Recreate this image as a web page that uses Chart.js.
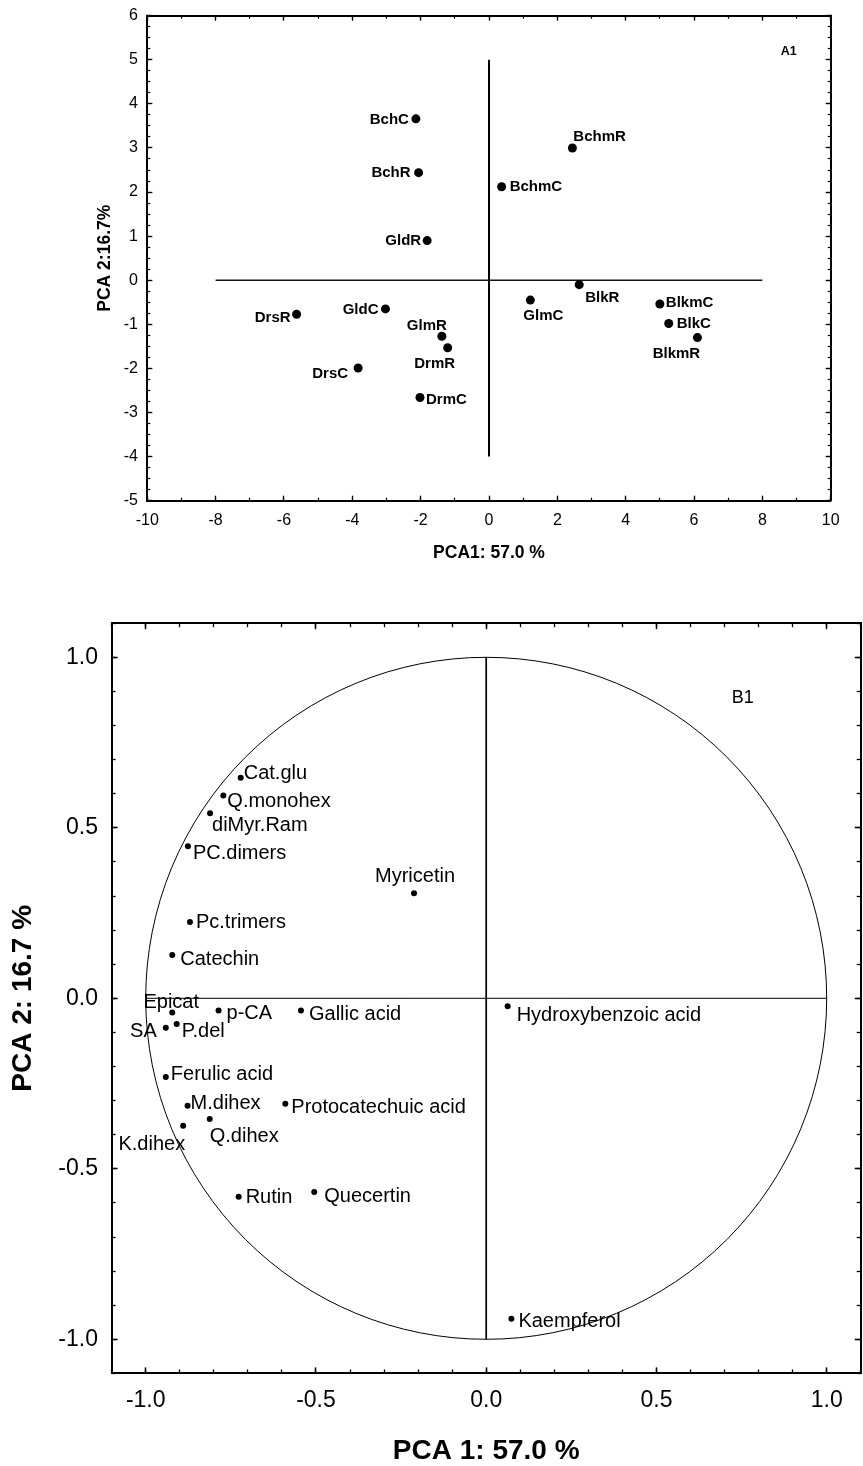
<!DOCTYPE html>
<html>
<head>
<meta charset="utf-8">
<script src="https://cdn.jsdelivr.net/npm/chart.js@4.4.1/dist/chart.umd.min.js"></script>
<style>
  html, body { margin: 0; padding: 0; background: #fff; }
  #wrap { position: relative; width: 863px; height: 1466px; }
  canvas { position: absolute; left: 0; }
</style>
</head>
<body>
<div id="wrap">
  <canvas id="scores" width="863" height="590" style="top:0"></canvas>
  <canvas id="loadings" width="863" height="876" style="top:590px"></canvas>
</div>
<script>
// ---- PCA scores of the samples (panel A1) ----
const sampleNames = ['BchC', 'BchR', 'GldR', 'BchmC', 'BchmR', 'DrsR', 'GldC', 'GlmR',
  'DrmR', 'DrsC', 'DrmC', 'GlmC', 'BlkR', 'BlkmC', 'BlkC', 'BlkmR'];
const scorePC1 = [-2.14, -2.06, -1.81, 0.37, 2.44, -5.63, -3.03, -1.38,
  -1.21, -3.83, -2.02, 1.21, 2.64, 5.00, 5.26, 6.10];
const scorePC2 = [3.66, 2.44, 0.90, 2.12, 3.00, -0.77, -0.65, -1.27,
  -1.53, -1.99, -2.66, -0.45, -0.10, -0.54, -0.98, -1.30];
const scoreTicksX = [-10, -8, -6, -4, -2, 0, 2, 4, 6, 8, 10];
const scoreTicksY = [-5, -4, -3, -2, -1, 0, 1, 2, 3, 4, 5, 6];
const scoreCrossX = [-8, 8];   // horizontal reference line extent
const scoreCrossY = [-4, 5];   // vertical reference line extent

// ---- PCA loadings of the phenolic compounds (panel B1) ----
const compoundNames = ['Cat.glu', 'Q.monohex', 'diMyr.Ram', 'PC.dimers', 'Myricetin', 'Pc.trimers',
  'Catechin', 'Epicat', 'p-CA', 'Gallic acid', 'SA', 'P.del', 'Ferulic acid', 'M.dihex',
  'Protocatechuic acid', 'Q.dihex', 'K.dihex', 'Hydroxybenzoic acid', 'Rutin', 'Quecertin', 'Kaempferol'];
const loadingPC1 = [-0.721, -0.772, -0.811, -0.876, -0.212, -0.870,
  -0.922, -0.922, -0.786, -0.544, -0.941, -0.909, -0.941, -0.877,
  -0.590, -0.812, -0.890, 0.063, -0.727, -0.505, 0.074];
const loadingPC2 = [0.647, 0.595, 0.543, 0.446, 0.308, 0.224,
  0.127, -0.042, -0.036, -0.036, -0.086, -0.075, -0.231, -0.315,
  -0.309, -0.354, -0.374, -0.023, -0.582, -0.568, -0.940];
const loadingTicks = [-1.0, -0.5, 0.0, 0.5, 1.0];
const loadingCross = [-1, 1];

// label anchor: [textAlign, dx, dy] relative to the marker
const scoreLabelSpots = {
  'BchC': ['right', -7, 1], 'BchR': ['right', -8, 0], 'GldR': ['right', -6, 0],
  'BchmC': ['left', 8, 0], 'BchmR': ['left', 1, -11], 'DrsR': ['right', -6, 4],
  'GldC': ['right', -7, 1], 'GlmR': ['center', -15, -10], 'DrmR': ['center', -13, 16],
  'DrsC': ['right', -10, 6], 'DrmC': ['left', 6, 2], 'GlmC': ['center', 13, 16],
  'BlkR': ['left', 6, 13], 'BlkmC': ['left', 6, -1], 'BlkC': ['left', 8, 0],
  'BlkmR': ['center', -21, 16]
};
const loadingLabelSpots = {
  'Cat.glu': ['left', 3, -4], 'Q.monohex': ['left', 4, 6], 'diMyr.Ram': ['left', 2, 12],
  'PC.dimers': ['left', 5, 7], 'Myricetin': ['center', 1, -17], 'Pc.trimers': ['left', 6, 1],
  'Catechin': ['left', 8, 4], 'Epicat': ['center', -1, -10], 'p-CA': ['left', 8, 3],
  'Gallic acid': ['left', 8, 4], 'SA': ['right', -9, 4], 'P.del': ['left', 5, 8],
  'Ferulic acid': ['left', 5, -3], 'M.dihex': ['left', 3, -2], 'Protocatechuic acid': ['left', 6, 4],
  'Q.dihex': ['left', 0, 17], 'K.dihex': ['right', 2, 19], 'Hydroxybenzoic acid': ['left', 9, 9],
  'Rutin': ['left', 7, 1], 'Quecertin': ['left', 10, 4], 'Kaempferol': ['left', 7, 3]
};

const FONT = '"Liberation Sans", Arial, Helvetica, sans-serif';
Chart.defaults.font.family = FONT;
Chart.defaults.color = '#000';

// fixed axis box thickness (0 for the unlabeled frame sides)
function fixSize(size) {
  return scale => {
    if (scale.isHorizontal()) scale.height = size; else scale.width = size;
    scale.paddingLeft = 0; scale.paddingRight = 0; scale.paddingTop = 0; scale.paddingBottom = 0;
  };
}

// one side of the frame: inward tick marks, optional labels and border line
function frameAxis(o) {
  const cfg = {
    type: 'linear', axis: o.axis, position: o.position, min: o.min, max: o.max,
    weight: o.labels ? 1 : 0,
    afterFit: fixSize(o.labels ? o.labels.box : 0),
    grid: { drawOnChartArea: false, drawTicks: true, tickLength: -o.len, tickWidth: o.tickWidth, tickColor: '#000' },
    border: { display: !!o.border, width: o.border || 1, color: '#000' },
    ticks: { display: !!o.labels, autoSkip: false, maxRotation: 0, minRotation: 0, includeBounds: false, color: '#000' }
  };
  if (o.labels) {
    cfg.ticks.padding = o.labels.padding;
    cfg.ticks.font = o.labels.font;
    cfg.ticks.callback = o.labels.fmt;
  }
  if (o.values) {
    cfg.afterBuildTicks = s => { s.ticks = o.values.map(v => ({ value: v })); };
  } else {
    cfg.ticks.stepSize = o.step;
  }
  return cfg;
}

// unit circle of the correlation plot, drawn through the chart's own scales
const unitCircle = {
  id: 'unitCircle',
  beforeDatasetsDraw(chart, args, opts) {
    if (!opts.show) return;
    const xs = chart.scales.x, ys = chart.scales.y, ctx = chart.ctx;
    const cx = xs.getPixelForValue(0), cy = ys.getPixelForValue(0);
    const rx = xs.getPixelForValue(1) - cx, ry = cy - ys.getPixelForValue(1);
    ctx.save();
    ctx.beginPath();
    ctx.ellipse(cx, cy, rx, ry, 0, 0, Math.PI * 2);
    ctx.lineWidth = 1;
    ctx.strokeStyle = '#000';
    ctx.stroke();
    ctx.restore();
  }
};

// point names, panel tag and axis titles
const annotate = {
  id: 'annotate',
  afterDatasetsDraw(chart, args, opts) {
    const ctx = chart.ctx, area = chart.chartArea;
    const meta = chart.getDatasetMeta(0);
    ctx.save();
    ctx.fillStyle = '#000';
    ctx.textBaseline = 'middle';
    ctx.font = opts.labelFont;
    opts.names.forEach((name, i) => {
      const el = meta.data[i];
      const spot = opts.spots[name];
      ctx.textAlign = spot[0];
      ctx.fillText(name, el.x + spot[1], el.y + spot[2]);
    });
    ctx.font = opts.tag.font;
    ctx.textAlign = 'center';
    ctx.fillText(opts.tag.text, area.right + opts.tag.dx, area.top + opts.tag.dy);
    ctx.font = opts.titleFont;
    ctx.fillText(opts.xTitle, (area.left + area.right) / 2, area.bottom + opts.xTitleGap);
    ctx.translate(area.left - opts.yTitleGap, (area.top + area.bottom) / 2);
    ctx.rotate(-Math.PI / 2);
    ctx.fillText(opts.yTitle, 0, 0);
    ctx.restore();
  }
};

function pointsOf(xs, ys) { return xs.map((x, i) => ({ x: x, y: ys[i] })); }

// ---------------- Panel A1: scores ----------------
const intFmt = v => String(v);
new Chart(document.getElementById('scores'), {
  type: 'scatter',
  data: {
    datasets: [
      { data: pointsOf(scorePC1, scorePC2), pointRadius: 4.5, pointHoverRadius: 4.5,
        backgroundColor: '#000', borderWidth: 0, order: 0 },
      { data: [{ x: 0, y: scoreCrossY[0] }, { x: 0, y: scoreCrossY[1] }], showLine: true,
        pointRadius: 0, borderColor: '#000', borderWidth: 2, order: 1 },
      { data: [{ x: scoreCrossX[0], y: 0 }, { x: scoreCrossX[1], y: 0 }], showLine: true,
        pointRadius: 0, borderColor: '#111', borderWidth: 1.3, order: 1 }
    ]
  },
  options: {
    responsive: false, animation: false, events: [],
    // chart area: left 147.3, right 830.7, top 15.7, bottom 500.7 (axis boxes 80 / 50 px)
    layout: { autoPadding: false, padding: { left: 67.3, right: 32.3, top: 15.7, bottom: 39.3 } },
    plugins: {
      legend: { display: false }, tooltip: { enabled: false },
      unitCircle: { show: false },
      annotate: {
        names: sampleNames, spots: scoreLabelSpots, labelFont: 'bold 15px ' + FONT,
        tag: { text: 'A1', font: 'bold 12.5px ' + FONT, dx: -42, dy: 36 },
        titleFont: 'bold 17.5px ' + FONT,
        xTitle: 'PCA1: 57.0 %', xTitleGap: 52,
        yTitle: 'PCA 2:16.7%', yTitleGap: 42
      }
    },
    scales: {
      xMinor: frameAxis({ axis: 'x', position: 'bottom', min: -10, max: 10, step: 1, len: 3, tickWidth: 1.2 }),
      x: frameAxis({ axis: 'x', position: 'bottom', min: -10, max: 10, values: scoreTicksX, len: 5, tickWidth: 1.3, border: 2,
        labels: { box: 50, padding: 15.3, font: { size: 16 }, fmt: intFmt } }),
      xTopMinor: frameAxis({ axis: 'x', position: 'top', min: -10, max: 10, step: 1, len: 3, tickWidth: 1.2 }),
      xTop: frameAxis({ axis: 'x', position: 'top', min: -10, max: 10, values: scoreTicksX, len: 5, tickWidth: 1.3, border: 2 }),
      yMinor: frameAxis({ axis: 'y', position: 'left', min: -5, max: 6, step: 0.25, len: 3, tickWidth: 1.2 }),
      y: frameAxis({ axis: 'y', position: 'left', min: -5, max: 6, values: scoreTicksY, len: 5, tickWidth: 1.3, border: 2,
        labels: { box: 80, padding: 14.3, font: { size: 16 }, fmt: intFmt } }),
      yRightMinor: frameAxis({ axis: 'y', position: 'right', min: -5, max: 6, step: 0.25, len: 3, tickWidth: 1.2 }),
      yRight: frameAxis({ axis: 'y', position: 'right', min: -5, max: 6, values: scoreTicksY, len: 5, tickWidth: 1.3, border: 2 })
    }
  },
  plugins: [unitCircle, annotate]
});

// ---------------- Panel B1: loadings ----------------
const oneDec = v => Number(v).toFixed(1);
new Chart(document.getElementById('loadings'), {
  type: 'scatter',
  data: {
    datasets: [
      { data: pointsOf(loadingPC1, loadingPC2), pointRadius: 3, pointHoverRadius: 3,
        backgroundColor: '#000', borderWidth: 0, order: 0 },
      { data: [{ x: 0, y: loadingCross[0] }, { x: 0, y: loadingCross[1] }], showLine: true,
        pointRadius: 0, borderColor: '#000', borderWidth: 1.7, order: 1 },
      { data: [{ x: loadingCross[0], y: 0 }, { x: loadingCross[1], y: 0 }], showLine: true,
        pointRadius: 0, borderColor: '#000', borderWidth: 1, order: 1 }
    ]
  },
  options: {
    responsive: false, animation: false, events: [],
    // chart area: left 111.65, right 860.75, top 33.2, bottom 783.4 (axis boxes 100 / 60 px)
    layout: { autoPadding: false, padding: { left: 11.65, right: 2.25, top: 33.2, bottom: 32.6 } },
    plugins: {
      legend: { display: false }, tooltip: { enabled: false },
      unitCircle: { show: true },
      annotate: {
        names: compoundNames, spots: loadingLabelSpots, labelFont: '20px ' + FONT,
        tag: { text: 'B1', font: '18px ' + FONT, dx: -118, dy: 74.5 },
        titleFont: 'bold 28px ' + FONT,
        xTitle: 'PCA 1: 57.0 %', xTitleGap: 77.5,
        yTitle: 'PCA 2: 16.7 %', yTitleGap: 88.7
      }
    },
    scales: {
      xMinor: frameAxis({ axis: 'x', position: 'bottom', min: -1.1, max: 1.1, step: 0.1, len: 4, tickWidth: 1.3 }),
      x: frameAxis({ axis: 'x', position: 'bottom', min: -1.1, max: 1.1, values: loadingTicks, len: 6, tickWidth: 1.5, border: 2,
        labels: { box: 60, padding: 19.8, font: { size: 23 }, fmt: oneDec } }),
      xTopMinor: frameAxis({ axis: 'x', position: 'top', min: -1.1, max: 1.1, step: 0.1, len: 4, tickWidth: 1.3 }),
      xTop: frameAxis({ axis: 'x', position: 'top', min: -1.1, max: 1.1, values: loadingTicks, len: 6, tickWidth: 1.5, border: 2 }),
      yMinor: frameAxis({ axis: 'y', position: 'left', min: -1.1, max: 1.1, step: 0.1, len: 4, tickWidth: 1.3 }),
      y: frameAxis({ axis: 'y', position: 'left', min: -1.1, max: 1.1, values: loadingTicks, len: 6, tickWidth: 1.5, border: 2,
        labels: { box: 100, padding: 19.65, font: { size: 23 }, fmt: oneDec } }),
      yRightMinor: frameAxis({ axis: 'y', position: 'right', min: -1.1, max: 1.1, step: 0.1, len: 4, tickWidth: 1.3 }),
      yRight: frameAxis({ axis: 'y', position: 'right', min: -1.1, max: 1.1, values: loadingTicks, len: 6, tickWidth: 1.5, border: 2 })
    }
  },
  plugins: [unitCircle, annotate]
});
</script>
</body>
</html>
